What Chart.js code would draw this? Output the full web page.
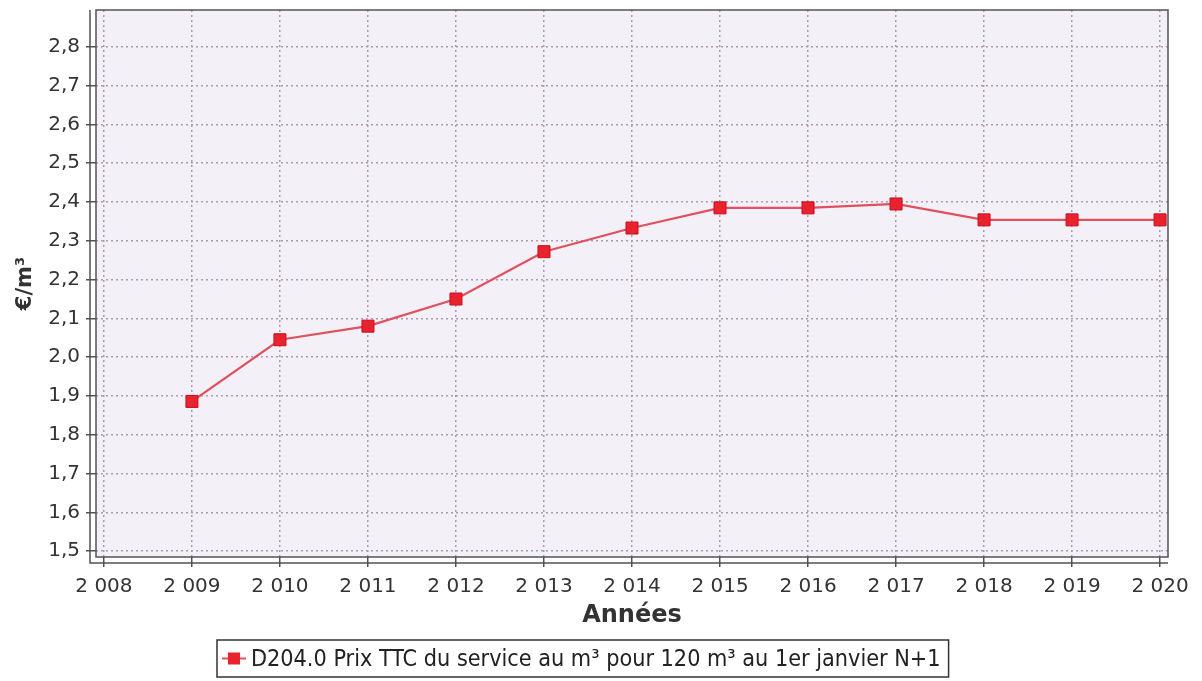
<!DOCTYPE html>
<html>
<head>
<meta charset="utf-8">
<script src="https://cdn.jsdelivr.net/npm/chart.js@4"></script>
<style>
  html, body { margin: 0; padding: 0; background: #fff; }
  #wrap { width: 1202px; height: 681px; }
</style>
</head>
<body>
<div id="wrap"><canvas id="prixChart" width="1202" height="681"></canvas></div>
<script>
const years = [2009, 2010, 2011, 2012, 2013, 2014, 2015, 2016, 2017, 2018, 2019, 2020];
const prix = [1.886, 2.045, 2.08, 2.15, 2.272, 2.333, 2.385, 2.385, 2.395, 2.354, 2.354, 2.354];
const xTicks = [2008, 2009, 2010, 2011, 2012, 2013, 2014, 2015, 2016, 2017, 2018, 2019, 2020];
const yTicks = [1.5, 1.6, 1.7, 1.8, 1.9, 2.0, 2.1, 2.2, 2.3, 2.4, 2.5, 2.6, 2.7, 2.8];
const serieLabel = 'D204.0 Prix TTC du service au m³ pour 120 m³ au 1er janvier N+1';

const axisColor = '#555058';
const gridColor = '#b09aae';
const lineColor = '#e0505e';
const pointColor = '#e8222f';

function spaced(v) {
  return String(v).replace(/\B(?=(\d{3})+(?!\d))/g, ' ');
}

const framePlugin = {
  id: 'frame',
  beforeDraw(chart) {
    const { ctx, chartArea: a } = chart;
    ctx.save();
    ctx.fillStyle = '#f4f0f8';
    ctx.fillRect(a.left, a.top, a.right - a.left, a.bottom - a.top);
    ctx.restore();
  },
  afterDraw(chart) {
    const { ctx, chartArea: a } = chart;
    ctx.save();
    ctx.strokeStyle = axisColor;
    ctx.lineWidth = 1.5;
    ctx.strokeRect(a.left, a.top, a.right - a.left, a.bottom - a.top);
    // axis lines, offset from the plot like the original
    ctx.beginPath();
    ctx.moveTo(a.left - 6, a.top);
    ctx.lineTo(a.left - 6, a.bottom + 6);
    ctx.lineTo(a.right, a.bottom + 6);
    ctx.stroke();

    // legend box
    ctx.font = '23.2px "DejaVu Sans Condensed", "DejaVu Sans"';
    const tw = ctx.measureText(serieLabel).width;
    const boxW = tw + 42;
    const boxH = 37;
    const bx = 217;
    const by = 640;
    ctx.fillStyle = '#fff';
    ctx.fillRect(bx, by, boxW, boxH);
    ctx.lineWidth = 1.5;
    ctx.strokeStyle = '#333';
    ctx.strokeRect(bx, by, boxW, boxH);
    const cy = by + boxH / 2;
    ctx.strokeStyle = lineColor;
    ctx.lineWidth = 2;
    ctx.beginPath();
    ctx.moveTo(bx + 5, cy);
    ctx.lineTo(bx + 29, cy);
    ctx.stroke();
    ctx.fillStyle = pointColor;
    ctx.fillRect(bx + 11, cy - 6, 12, 12);
    ctx.fillStyle = '#222';
    ctx.textBaseline = 'middle';
    ctx.fillText(serieLabel, bx + 34, cy + 1);
    ctx.restore();
  }
};

const ctx = document.getElementById('prixChart').getContext('2d');
new Chart(ctx, {
  type: 'line',
  data: {
    datasets: [{
      label: serieLabel,
      data: years.map((y, i) => ({ x: y, y: prix[i] })),
      borderColor: lineColor,
      borderWidth: 2.2,
      backgroundColor: pointColor,
      pointStyle: 'rect',
      pointRadius: 8.5,
      pointBorderColor: '#c8101e',
      pointBorderWidth: 1,
      tension: 0
    }]
  },
  options: {
    responsive: false,
    animation: false,
    layout: { padding: { top: 10, right: 34, left: 0, bottom: 51 } },
    plugins: {
      legend: { display: false },
      tooltip: { enabled: false }
    },
    scales: {
      x: {
        type: 'linear',
        min: 2007.91,
        max: 2020.09,
        afterBuildTicks: s => { s.ticks = xTicks.map(v => ({ value: v })); },
        afterFit: s => { s.height = 73; s.paddingLeft = 0; s.paddingRight = 0; },
        border: { display: false, dash: [2, 3] },
        grid: {
          color: gridColor,
          lineWidth: 1.5,
          tickLength: 10,
          tickColor: axisColor,
          tickBorderDash: [],
          tickWidth: 1.5
        },
        ticks: {
          padding: 8,
          color: '#333',
          font: { family: 'DejaVu Sans', size: 20 },
          maxRotation: 0,
          callback: v => spaced(v)
        },
        title: {
          display: true,
          text: 'Années',
          color: '#333',
          font: { family: 'DejaVu Sans', size: 24, weight: 'bold' },
          padding: { top: 0, bottom: 0 }
        }
      },
      y: {
        min: 1.485,
        max: 2.895,
        afterBuildTicks: s => { s.ticks = yTicks.map(v => ({ value: v })); },
        afterFit: s => { s.width = 96; s.paddingTop = 0; s.paddingBottom = 0; },
        border: { display: false, dash: [2, 3] },
        grid: {
          color: gridColor,
          lineWidth: 1.5,
          tickLength: 10,
          tickColor: axisColor,
          tickBorderDash: [],
          tickWidth: 1.5
        },
        ticks: {
          padding: 6,
          color: '#333',
          font: { family: 'DejaVu Sans', size: 20 },
          callback: v => v.toFixed(1).replace('.', ',')
        },
        title: {
          display: true,
          text: '€/m³',
          color: '#333',
          font: { family: 'DejaVu Sans', size: 21, weight: 'bold' },
          padding: { top: 13, bottom: 0 }
        }
      }
    }
  },
  plugins: [framePlugin]
});
</script>
</body>
</html>
